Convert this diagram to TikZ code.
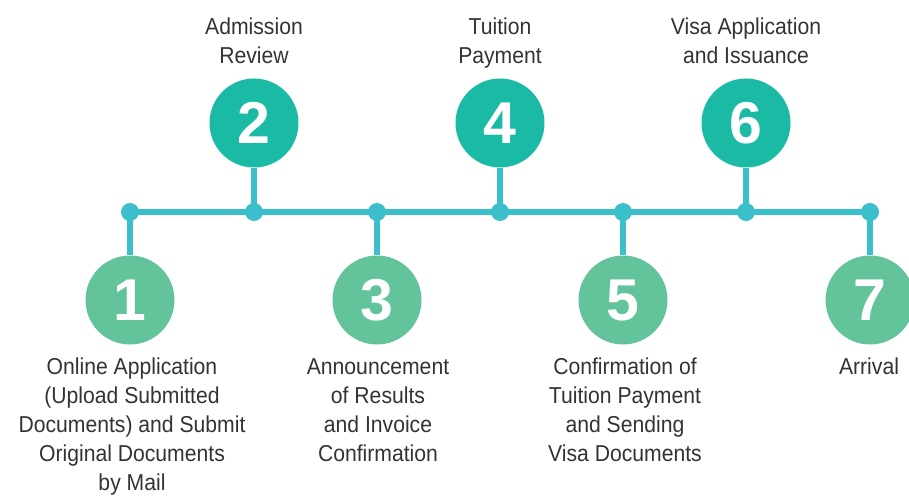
\documentclass[tikz,border=0pt]{standalone}
\usepackage{fontspec}
\setmainfont[FakeStretch=0.92]{Liberation Sans}
\newfontfamily\numfont{Liberation Sans}
\definecolor{linec}{HTML}{3BBFCB}
\definecolor{topg}{HTML}{1BBAA5}
\definecolor{botg}{HTML}{63C49C}
\definecolor{textc}{HTML}{333333}
\tikzset{
  tl/.style={draw=linec, line width=6pt},
  dotn/.style={circle, fill=linec, minimum size=18pt, inner sep=0pt},
  numc/.style={circle, minimum size=89pt, inner sep=0pt, text=white,
    font=\numfont\bfseries\fontsize{59}{59}\selectfont},
  topc/.style={numc, fill=topg},
  botc/.style={numc, fill=botg},
  lbl/.style={align=center, inner sep=0pt, anchor=north, text=textc,
    font=\fontsize{23}{29}\selectfont}
}
\begin{document}
\begin{tikzpicture}[x=1pt,y=-1pt]
\useasboundingbox (0,0) rectangle (909,497);
% dots
\foreach \i/\x in {1/130,2/254,3/377,4/500,5/623,6/746,7/870}
  \coordinate (p\i) at (\x,212);
\draw[tl] (p1) -- (p7);
\foreach \i in {1,...,7}
  \node[dotn] (d\i) at (p\i) {};
% circles
\node[botc] (c1) at (130,300) {1};
\node[topc] (c2) at (254,123) {2};
\node[botc] (c3) at (377,300) {3};
\node[topc] (c4) at (500,123) {4};
\node[botc] (c5) at (623,300) {5};
\node[topc] (c6) at (746,123) {6};
\node[botc] (c7) at (870,300) {7};
\foreach \i in {1,...,7}
  \draw[tl] (d\i.center) -- (c\i);
% labels
\node[lbl] (t2) at (254,18) {Admission\\Review};
\node[lbl] (t4) at (500,18) {Tuition\\Payment};
\node[lbl] (t6) at (746,18) {Visa Application\\and Issuance};
\node[lbl] (t1) at (132,358) {Online Application\\(Upload Submitted\\Documents) and Submit\\Original Documents\\by Mail};
\node[lbl] (t3) at (378,358) {Announcement\\of Results\\and Invoice\\Confirmation};
\node[lbl] (t5) at (625,358) {Confirmation of\\Tuition Payment\\and Sending\\Visa Documents};
\node[lbl] (t7) at (869,358) {Arrival};
\end{tikzpicture}
\end{document}
